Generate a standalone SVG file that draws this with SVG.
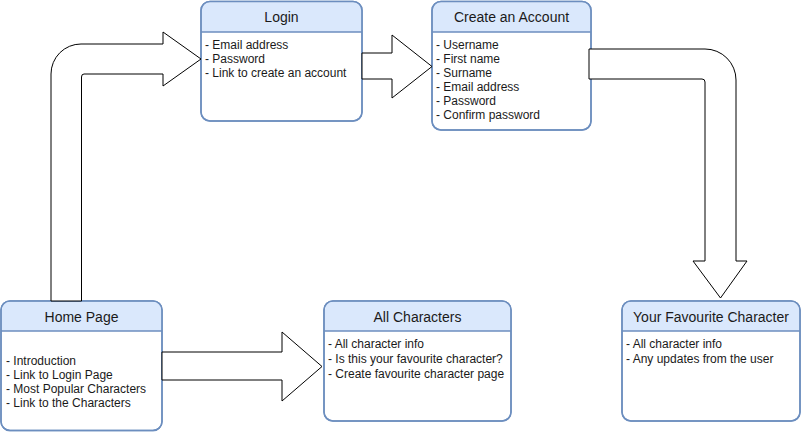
<svg xmlns="http://www.w3.org/2000/svg" width="802" height="432" viewBox="0 0 802 432">
<style>
.box{fill:#ffffff;stroke:#6c8ebf;stroke-width:1.5}
.hdr{fill:#dae8fc;stroke:none}
.sep{stroke:#6c8ebf;stroke-width:1.5;fill:none}
.title{font-family:"Liberation Sans",Arial,sans-serif;font-size:14px;fill:#1a1a1a;text-anchor:middle}
.body{font-family:"Liberation Sans",Arial,sans-serif;font-size:12px;fill:#1a1a1a}
.arrow{fill:#ffffff;stroke:#000000;stroke-width:1;stroke-linejoin:miter}
</style>
<rect width="802" height="432" fill="#ffffff"/>
<g id="login">
<rect class="box" x="201" y="1.5" width="161" height="119.5" rx="9"/>
<path class="hdr" d="M202,32 V10.5 Q202,2.25 210,2.25 H353 Q361.25,2.25 361.25,10.5 V32 Z"/>
<line class="sep" x1="201" y1="32" x2="362" y2="32"/>
<rect x="201" y="1.5" width="161" height="119.5" rx="9" fill="none" stroke="#6c8ebf" stroke-width="1.5"/>
<text class="title" x="281.5" y="22">Login</text>
<text class="body" x="205"><tspan x="205" y="48.5">- Email address</tspan><tspan x="205" y="62.5">- Password</tspan><tspan x="205" y="76.5">- Link to create an account</tspan></text>
</g>
<g id="create-account">
<rect class="box" x="432" y="1.5" width="159" height="128.5" rx="9"/>
<path class="hdr" d="M433,32 V10.5 Q433,2.25 441,2.25 H582 Q590.25,2.25 590.25,10.5 V32 Z"/>
<line class="sep" x1="432" y1="32" x2="591" y2="32"/>
<rect x="432" y="1.5" width="159" height="128.5" rx="9" fill="none" stroke="#6c8ebf" stroke-width="1.5"/>
<text class="title" x="511.5" y="22">Create an Account</text>
<text class="body"><tspan x="436" y="48.5">- Username</tspan><tspan x="436" y="62.5">- First name</tspan><tspan x="436" y="76.5">- Surname</tspan><tspan x="436" y="90.5">- Email address</tspan><tspan x="436" y="104.5">- Password</tspan><tspan x="436" y="118.5">- Confirm password</tspan></text>
</g>
<g id="home-page">
<rect class="box" x="1" y="301" width="161" height="129.5" rx="9"/>
<path class="hdr" d="M2,331 V310 Q2,301.75 10,301.75 H153 Q161.25,301.75 161.25,310 V331 Z"/>
<line class="sep" x1="1" y1="331" x2="162" y2="331"/>
<rect x="1" y="301" width="161" height="129.5" rx="9" fill="none" stroke="#6c8ebf" stroke-width="1.5"/>
<text class="title" x="81.5" y="322">Home Page</text>
<text class="body"><tspan x="6" y="364.5">- Introduction</tspan><tspan x="6" y="378.5">- Link to Login Page</tspan><tspan x="6" y="392.5">- Most Popular Characters</tspan><tspan x="6" y="406.5">- Link to the Characters</tspan></text>
</g>
<g id="all-characters">
<rect class="box" x="324" y="301" width="187" height="120" rx="9"/>
<path class="hdr" d="M325,331 V310 Q325,301.75 333,301.75 H502 Q510.25,301.75 510.25,310 V331 Z"/>
<line class="sep" x1="324" y1="331" x2="511" y2="331"/>
<rect x="324" y="301" width="187" height="120" rx="9" fill="none" stroke="#6c8ebf" stroke-width="1.5"/>
<text class="title" x="417.5" y="322">All Characters</text>
<text class="body"><tspan x="328" y="347.5">- All character info</tspan><tspan x="328" y="362.5">- Is this your favourite character?</tspan><tspan x="328" y="377.5">- Create favourite character page</tspan></text>
</g>
<g id="favourite-character">
<rect class="box" x="622" y="301" width="178" height="120" rx="9"/>
<path class="hdr" d="M623,331 V310 Q623,301.75 631,301.75 H791 Q799.25,301.75 799.25,310 V331 Z"/>
<line class="sep" x1="622" y1="331" x2="800" y2="331"/>
<rect x="622" y="301" width="178" height="120" rx="9" fill="none" stroke="#6c8ebf" stroke-width="1.5"/>
<text class="title" x="711" y="322">Your Favourite Character</text>
<text class="body"><tspan x="626" y="347.5">- All character info</tspan><tspan x="626" y="362.5">- Any updates from the user</tspan></text>
</g>
<g id="connectors">
<path class="arrow" d="M51,301 V74 A30,30 0 0 1 81,44 H163 V32 L201,59 L163,86 V74 H84 Q81.5,74 81.5,77 V301 Z"/>
<path class="arrow" d="M362,53 H392 V35 L432,66.5 L392,98 V79 H362 Z"/>
<path class="arrow" d="M589,49 H705 A31,31 0 0 1 736,80 V261 H747 L720.5,298 L693,261 H705 V82 Q705,79 702,79 H589 Z"/>
<path class="arrow" d="M162,352 H282 V332 L322,366.5 L282,401 V380 H162 Z"/>
</g>
</svg>
